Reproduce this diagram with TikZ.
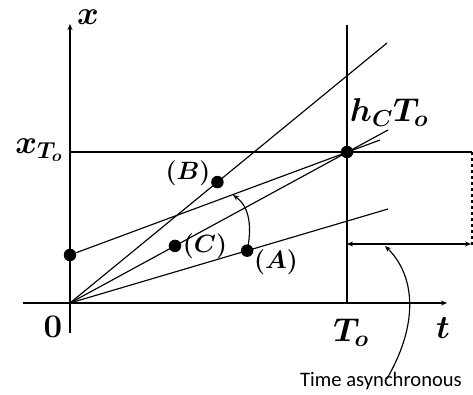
\RequirePackage{fix-cm}
\documentclass[tikz,border=0pt]{standalone}
\usepackage{fontspec}
\usepackage{amsmath}
\newfontfamily\captfont{Carlito}
\usetikzlibrary{arrows.meta}
\begin{document}
\begin{tikzpicture}[x=1pt, y=-1pt, line width=1.15pt,
    lbl/.style={font=\fontsize{33}{40}\selectfont\boldmath, inner sep=0pt},
    sublbl/.style={font=\fontsize{25}{30}\selectfont\boldmath, inner sep=0pt},
    dot/.style={circle, fill=black, inner sep=0pt, minimum size=12.5pt},
    tip/.style={-{Stealth[length=6pt, width=5pt]}}]
\useasboundingbox (0,0) rectangle (473,394);
\def\tx{347}
\def\xh{152}

\coordinate (O) at (70,303);
\coordinate (P) at (\tx,\xh);
\coordinate (tA) at (23,303);
\coordinate (tB) at (447,303);
\coordinate (xA) at (70,333);
\coordinate (xB) at (70,24);
\coordinate (hA) at (472,\xh);
\coordinate (vA) at (\tx,25);
\coordinate (bEnd) at (387,43);
\coordinate (lEnd) at (380,140);
\coordinate (cEnd) at (388,130);
\coordinate (aEnd) at (388,209);
\coordinate (rTop) at (472,\xh);
\coordinate (rBot) at (472,247);
\coordinate (gL) at (\tx,244);
\coordinate (gR) at (471,244);
\coordinate (gM) at (385,246);

\draw[tip] (tA) -- (tB);
\draw[tip] (xA) -- (xB);
\draw (O |- P) -- (hA);
\draw (vA) -- (O -| vA);
\draw[dashed] (rTop) -- (rBot);
\draw[{Stealth[length=6pt, width=5pt]}-{Stealth[length=6pt, width=5pt]}] (gL) -- (gR);

\node[dot] (L) at (70,255) {};
\node[dot] (Pd) at (P) {};
\draw (O) -- (bEnd) node[dot, pos=0.465] (B) {};
\draw (L) -- (lEnd);
\draw (O) -- (cEnd) node[dot, pos=0.33] (C) {};
\draw (O) -- (aEnd) node[dot, pos=0.557] (A) {};
\coordinate (arcEnd) at (233,195);
\draw[tip] (A.center) .. controls (252,228) and (250,207) .. (arcEnd);

\node[lbl] (xlab) at (88,17) {$x$};
\node[lbl] (xTo) at (39,150) {$x_{T_o}$};
\node[lbl] (zero) at (53,327) {$0$};
\node[lbl] (tlab) at (443,328) {$t$};
\node[lbl] (To) at (351,333) {$T_o$};
\node[lbl] (hC) at (389,113) {$h_C T_o$};
\node[sublbl] (Bl) at (188,173) {$(B)$};
\node[sublbl] (Cl) at (205,246) {$(C)$};
\node[sublbl] (Al) at (276,262) {$(A)$};

\node[font=\captfont\fontsize{20.6}{24}\selectfont, inner sep=0pt] (async) at (381,381) {Time asynchronous};
\draw[tip] ([xshift=6pt, yshift=-7pt]async.north) .. controls (422,318) and (412,272) .. (gM);
\end{tikzpicture}
\end{document}
